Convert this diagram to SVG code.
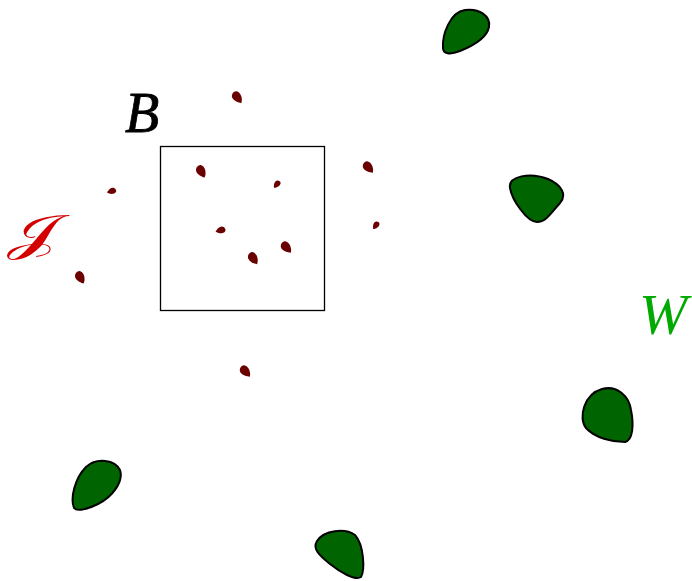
<svg xmlns="http://www.w3.org/2000/svg" width="692" height="581" viewBox="0 0 692 581">
<style>
.blob{fill:#006400;stroke:#000;stroke-width:2}
.drop{fill:#6b0000}
.lbl{font-family:"Liberation Serif","DejaVu Serif",serif;font-style:italic}
</style>
<defs>
<path id="dr" d="M 7.5 0 C 4.5 -4.2 -2 -5.8 -5 -3 C -7 -0.8 -5.6 3.8 -1.8 4.4 C 1.8 4.8 5 2.2 7.5 0 Z"/>
</defs>
<rect width="692" height="581" fill="#fff"/>
<g id="box"><rect x="160.5" y="146.5" width="164" height="164" fill="none" stroke="#000" stroke-width="1.3"/></g>
<g id="labels">
<text class="lbl" x="125" y="132" font-size="56" fill="#000" stroke="#000" stroke-width="0.8">B</text>
<text class="lbl" x="639" y="334" font-size="58" fill="#00aa00">W</text>
<text x="0" y="0" font-size="52" fill="#d40000" font-family="DejaVu Serif,DejaVu Sans,serif" transform="translate(7,250) scale(1.45,0.95)">𝒥</text>
</g>
<g id="blobs">
<path class="blob" d="M 443,48 C 442,35 450,12 465,10 C 479,8 491,16 489,27 C 487,37 475,45 460,51 C 450,55 443,54 443,48 Z"/>
<path class="blob" d="M 510,188 C 508,176 530,172 548,179 C 562,185 567,195 560,203 C 552,212 546,222 537,222 C 527,222 512,200 510,188 Z"/>
<path class="blob" d="M 602,389 C 617,385 629,396 631,410 C 634,425 633,440 625,442 C 612,442 595,438 586,428 C 578,418 584,394 602,389 Z"/>
<path class="blob" d="M 74,508 C 70,498 75,478 86,467 C 97,457 115,460 120,470 C 124,482 112,497 98,504 C 88,509 77,512 74,508 Z"/>
<path class="blob" d="M 317,541 C 324,530 345,528 355,535 C 364,545 365,570 361,577 C 355,581 340,572 330,564 C 320,556 312,549 317,541 Z"/>
</g>
<g id="drops">
<use href="#dr" class="drop" transform="translate(237,97) rotate(55)"/>
<use href="#dr" class="drop" transform="translate(201,171) rotate(62)"/>
<use href="#dr" class="drop" transform="translate(277,184) rotate(130) scale(0.65)"/>
<use href="#dr" class="drop" transform="translate(112,191) rotate(165) scale(0.7)"/>
<use href="#dr" class="drop" transform="translate(368,167) rotate(50)"/>
<use href="#dr" class="drop" transform="translate(376,225) rotate(125) scale(0.65)"/>
<use href="#dr" class="drop" transform="translate(221,230) rotate(165) scale(0.75)"/>
<use href="#dr" class="drop" transform="translate(253,258) rotate(58)"/>
<use href="#dr" class="drop" transform="translate(286,247) rotate(50)"/>
<use href="#dr" class="drop" transform="translate(80,277) rotate(62)"/>
<use href="#dr" class="drop" transform="translate(245,371) rotate(50)"/>
</g>
</svg>
